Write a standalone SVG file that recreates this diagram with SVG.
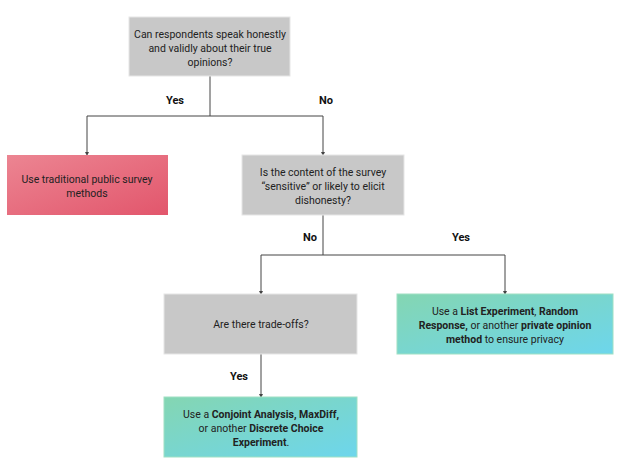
<svg xmlns="http://www.w3.org/2000/svg" width="624" height="472" viewBox="0 0 624 472">
<style>
text{font-family:Roboto,"Liberation Sans",sans-serif;font-size:10.5px;fill:#222;text-anchor:middle}
.l{font-weight:bold;font-size:11px;fill:#111}
.gray{fill:#c8c8c8;stroke:#e6e6e6;stroke-width:1}
.b{font-weight:bold}
.c{fill:none;stroke:#444;stroke-width:1;marker-end:url(#a)}
</style>
<defs>
<marker id="a" markerWidth="4" markerHeight="4" refX="2" refY="2" orient="auto"><path d="M0,0L4,2L0,4z" fill="#444"/></marker>
<linearGradient id="red" x1="0" y1="0" x2="1" y2="1"><stop offset="0" stop-color="#ec8592"/><stop offset="1" stop-color="#e2566c"/></linearGradient>
<linearGradient id="grn" x1="0" y1="0" x2="1" y2="1"><stop offset="0" stop-color="#84d6b2"/><stop offset="1" stop-color="#6dd6ec"/></linearGradient>
</defs>
<rect width="624" height="472" fill="#fff"/>
<g id="connectors">
<path class="c" d="M210,76V116H87V154"/>
<path class="c" d="M210,116H323V154"/>
<path class="c" d="M323,215V255H261V293"/>
<path class="c" d="M323,255H505V293"/>
<path class="c" d="M261,354V396"/>
<text class="l" x="175" y="104">Yes</text>
<text class="l" x="326" y="104">No</text>
<text class="l" x="310" y="241">No</text>
<text class="l" x="461" y="241">Yes</text>
<text class="l" x="239" y="380">Yes</text>
</g>
<g id="q1"><rect class="gray" x="129" y="17" width="161" height="59"/>
<text x="210" y="38">Can respondents speak honestly</text><text x="210" y="52">and validly about their true</text><text x="210" y="66">opinions?</text></g>
<g id="traditional"><rect x="7" y="155" width="161" height="60" fill="url(#red)"/>
<text x="87" y="183">Use traditional public survey</text><text x="87" y="197">methods</text></g>
<g id="q2"><rect class="gray" x="242" y="155" width="162" height="60"/>
<text x="323" y="176">Is the content of the survey</text><text x="323" y="190">“sensitive” or likely to elicit</text><text x="323" y="204">dishonesty?</text></g>
<g id="q3"><rect class="gray" x="164" y="294" width="193" height="60"/>
<text x="261" y="328">Are there trade-offs?</text></g>
<g id="private"><rect x="397" y="294" width="216" height="60" fill="url(#grn)" stroke="#9fe0c4"/>
<text x="505" y="315">Use a <tspan class="b">List Experiment</tspan>, <tspan class="b">Random</tspan></text>
<text x="505" y="329"><tspan class="b">Response,</tspan> or another <tspan class="b">private opinion</tspan></text>
<text x="505" y="343"><tspan class="b">method</tspan> to ensure privacy</text></g>
<g id="conjoint"><rect x="164" y="397" width="193" height="60" fill="url(#grn)" stroke="#9fe0c4"/>
<text x="261" y="418">Use a <tspan class="b">Conjoint Analysis, MaxDiff,</tspan></text>
<text x="261" y="432">or another <tspan class="b">Discrete Choice</tspan></text>
<text x="261" y="446"><tspan class="b">Experiment</tspan>.</text></g>
</svg>
